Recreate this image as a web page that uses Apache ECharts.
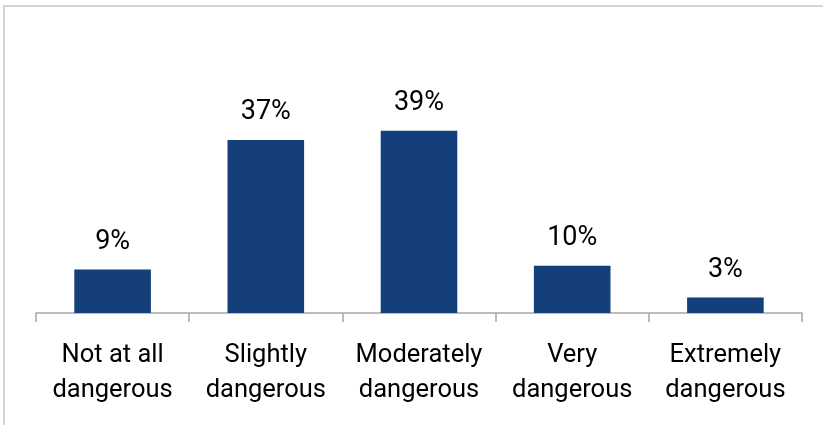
<!DOCTYPE html>
<html>
<head>
<meta charset="utf-8">
<script src="https://cdn.jsdelivr.net/npm/echarts@6/dist/echarts.min.js"></script>
<style>
html,body{margin:0;padding:0;background:#fff;}
#frame{position:absolute;left:3px;top:5px;width:830px;height:430px;border-top:2px solid #d4d4d4;border-left:2px solid #d4d4d4;}
#chart{position:absolute;left:0;top:0;width:823px;height:425px;}
</style>
</head>
<body>
<div id="frame"></div>
<div id="chart"></div>
<script>
const categories = ["Not at all\ndangerous", "Slightly\ndangerous", "Moderately\ndangerous", "Very\ndangerous", "Extremely\ndangerous"];
const values = [9.3, 37, 39, 10.1, 3.3];
const valueLabels = ["9%", "37%", "39%", "10%", "3%"];

const chart = echarts.init(document.getElementById('chart'), null, {renderer: 'canvas'});
chart.setOption({
  animation: false,
  grid: {left: 36, right: 21, top: 126, bottom: 112, containLabel: false},
  xAxis: {
    type: 'category',
    data: categories,
    axisLine: {lineStyle: {color: '#a6a6a6', width: 1.5}},
    axisTick: {show: true, length: 9, lineStyle: {color: '#a6a6a6', width: 1.5}},
    axisLabel: {interval: 0, color: '#000', fontFamily: 'Roboto', fontSize: 25.5, lineHeight: 35, margin: 25}
  },
  yAxis: {
    type: 'value', min: 0, max: 40, show: false,
    splitLine: {show: false}
  },
  series: [{
    type: 'bar',
    data: values,
    barWidth: '50%',
    itemStyle: {color: '#153f7b'},
    label: {
      show: true, position: 'top', distance: 14,
      color: '#000', fontFamily: 'Roboto', fontSize: 27,
      formatter: p => valueLabels[p.dataIndex]
    }
  }]
});
</script>
</body>
</html>
